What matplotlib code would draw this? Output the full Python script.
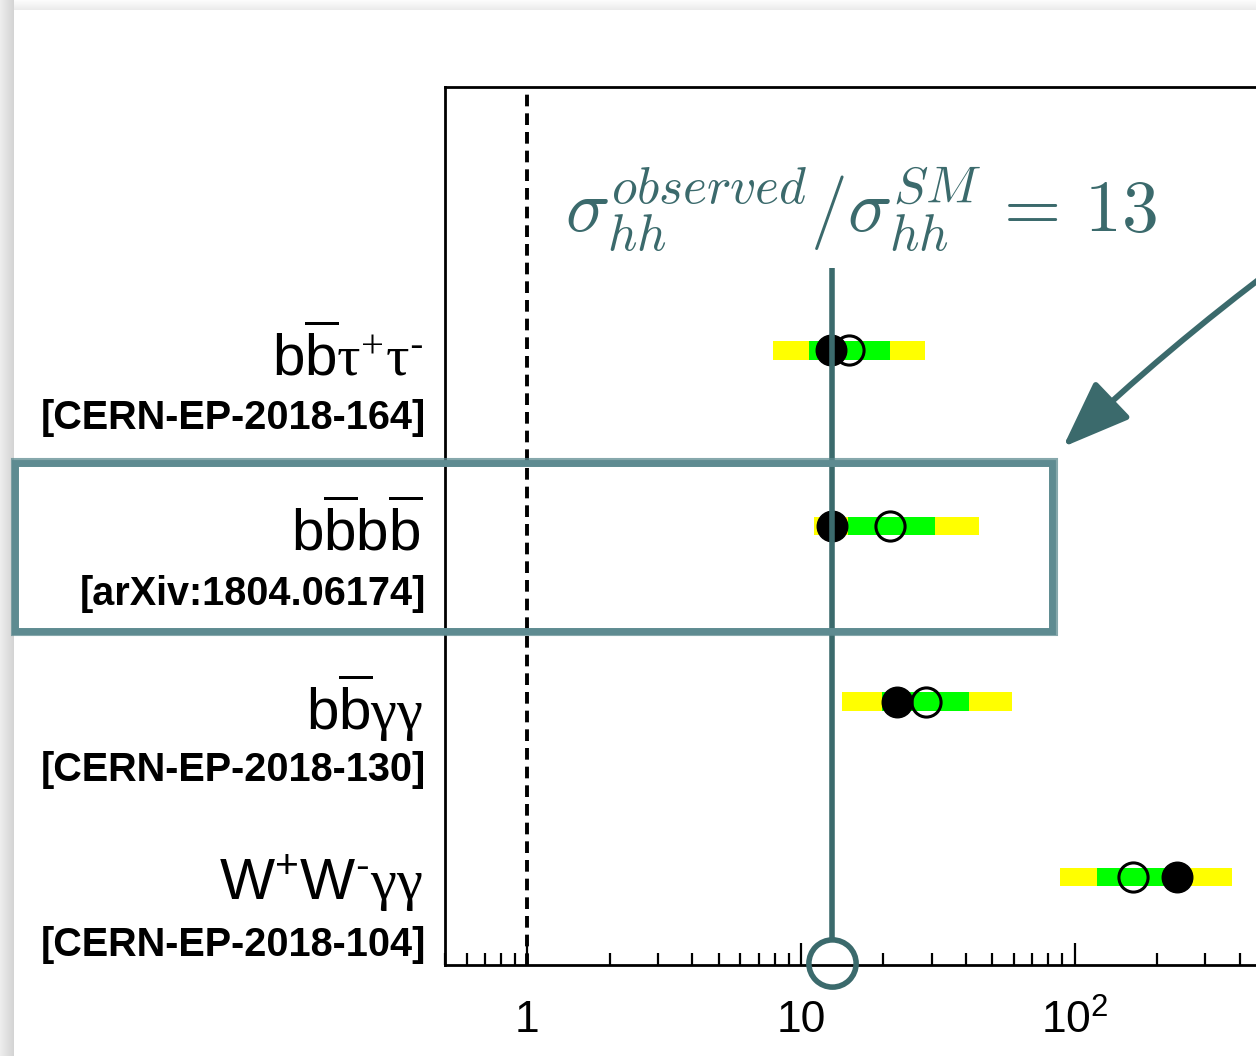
import numpy as np
import matplotlib
matplotlib.use("Agg")
import matplotlib.pyplot as plt
from matplotlib.patches import Rectangle, FancyArrowPatch
from matplotlib.ticker import FixedLocator, FixedFormatter, LogLocator, NullFormatter
from matplotlib.transforms import blended_transform_factory

plt.rcParams['font.family'] = ['Liberation Sans', 'DejaVu Sans']
plt.rcParams['mathtext.fontset'] = 'custom'
plt.rcParams['mathtext.rm'] = 'Liberation Sans'
plt.rcParams['mathtext.it'] = 'Liberation Sans:italic'
plt.rcParams['mathtext.bf'] = 'Liberation Sans:bold'
plt.rcParams['mathtext.sf'] = 'Liberation Serif'

# --- data ---
channels = [r'$\mathrm{b\overline{b}}\mathsf{\tau^{+}\tau^{\text{-}}}$',
            r'$\mathrm{b\overline{b}b\overline{b}}$',
            r'$\mathrm{b\overline{b}}\mathsf{\gamma\gamma}$',
            r'$\mathrm{W^{+}W^{\text{-}}}\mathsf{\gamma\gamma}$']
references = ['[CERN-EP-2018-164]', '[arXiv:1804.06174]',
              '[CERN-EP-2018-130]', '[CERN-EP-2018-104]']
observed = [12.9, 13.0, 22.4, 236]
expected = [15.0, 21.1, 28.5, 163]
band1_lo = [10.7, 14.9, 19.8, 121]
band1_hi = [21.1, 30.8, 41.0, 225]
band2_lo = [7.9, 11.1, 14.1, 88]
band2_hi = [28.3, 44.6, 58.9, 375]
highlight_ratio = 13
xtick_values = [1, 10, 100]
xtick_labels = ['1', '10', r'$\mathrm{10^{2}}$']

teal_dark = '#3b6a6c'
teal_light = '#5e8b91'

W, H = 1256, 1056
fig = plt.figure(figsize=(W / 100, H / 100), dpi=100)
fig.patch.set_facecolor('white')

def fx(px):
    return px / W

def fy(py):
    return 1 - py / H

# card shadow on the left and top edges
for i in range(14):
    g = 0.93 - 0.10 * i / 13
    fig.add_artist(Rectangle((fx(i), 0), fx(1.05), 1, transform=fig.transFigure,
                             color=(g, g, g), lw=0, zorder=-5))
for j in range(10):
    g = 0.99 - 0.07 * j / 9
    fig.add_artist(Rectangle((fx(14), fy(j + 1)), 1, 1.05 / H, transform=fig.transFigure,
                             color=(g, g, g), lw=0, zorder=-5))

ax = fig.add_axes([fx(445), fy(965), fx(1348.5 - 445), (965 - 87) / H])
ax.set_facecolor('none')
ax.set_xscale('log')
ax.set_xlim(0.5, 1000)
ax.set_ylim(0.5, 5.5)

rows = np.arange(len(channels), 0, -1)
ax.barh(rows, np.array(band2_hi) - np.array(band2_lo), left=band2_lo,
        height=0.105, color='#ffff00', zorder=2)
ax.barh(rows, np.array(band1_hi) - np.array(band1_lo), left=band1_lo,
        height=0.105, color='#00ff00', zorder=3)
ax.plot(expected, rows, 'o', ms=21, mfc='none', mec='black', mew=2.2,
        ls='none', zorder=4)
ax.plot(observed, rows, 'o', ms=22, mfc='black', mec='black', ls='none', zorder=5)

ax.axvline(1, color='black', lw=2.8, ls=(0, (3, 1.8)), zorder=3)

for s in ax.spines.values():
    s.set_linewidth(2)
ax.spines['right'].set_visible(False)

ax.set_yticks([])
ax.xaxis.set_major_locator(FixedLocator(xtick_values))
ax.xaxis.set_major_formatter(FixedFormatter(xtick_labels))
ax.xaxis.set_minor_locator(LogLocator(base=10, subs=np.arange(2, 10), numticks=30))
ax.xaxis.set_minor_formatter(NullFormatter())
ax.tick_params(axis='x', which='major', direction='in', length=16, width=1.6,
               labelsize=32, pad=25, top=False)
ax.tick_params(axis='x', which='minor', direction='in', length=9, width=1.6, top=False)

# channel labels to the left of the axes
lab_tr = blended_transform_factory(fig.transFigure, ax.transData)
for r, ch, ref in zip(rows, channels, references):
    ax.text(fx(423), r - 0.034, ch, transform=lab_tr, ha='right', va='center',
            fontsize=42, clip_on=False)
    ax.text(fx(426), r - 0.387, ref, transform=lab_tr, ha='right', va='center',
            fontsize=28.5, fontweight='bold', clip_on=False)

# hand-drawn style overlay
ax.plot([highlight_ratio, highlight_ratio], [4.47, 0.64], color=teal_dark, lw=4,
        solid_capstyle='butt', zorder=6, clip_on=False)
ax.plot([highlight_ratio], [0.51], 'o', ms=34, mfc='none', mec=teal_dark, mew=4,
        zorder=6, clip_on=False)
fig.text(fx(861), fy(210),
         r'$\sigma_{hh}^{observed}/\sigma_{hh}^{SM}\,=\,%d$' % highlight_ratio,
         color=teal_dark, fontsize=53, ha='center', va='center', math_fontfamily='cm')

fig.add_artist(FancyArrowPatch((fx(1278), fy(265)), (fx(1063), fy(447)),
                               transform=fig.transFigure,
                               arrowstyle='-|>,head_length=2.1,head_width=0.8',
                               mutation_scale=20, lw=4.2, color=teal_dark,
                               connectionstyle='arc3,rad=0.03',
                               shrinkA=0, shrinkB=0, zorder=7))

fig.add_artist(Rectangle((fx(15), fy(631)), fx(1052 - 15), (631 - 463) / H,
                         transform=fig.transFigure, fill=False, ec=teal_light,
                         lw=5, zorder=7))
fig.add_artist(Rectangle((fx(12), fy(635)), fx(1057 - 12), (635 - 459) / H,
                         transform=fig.transFigure, fill=False, ec=teal_light,
                         lw=1.5, alpha=0.75, zorder=7))

fig.savefig('out.png', dpi=100)
